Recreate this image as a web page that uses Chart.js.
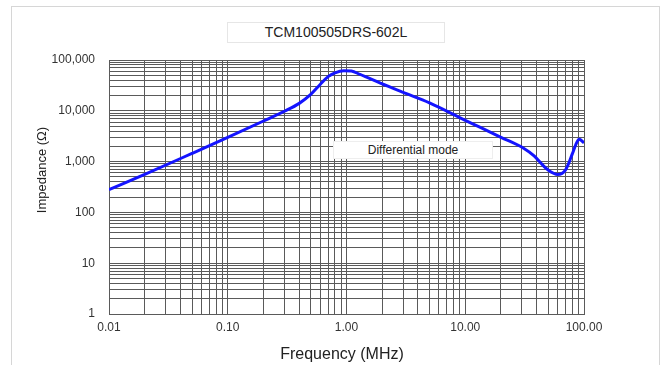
<!DOCTYPE html>
<html lang="en">
<head>
<meta charset="UTF-8">
<title>TCM100505DRS-602L</title>
<script src="https://cdn.jsdelivr.net/npm/chart.js"></script>
<style>
  body { margin: 0; background: #fff; font-family: "Liberation Sans", Arial, sans-serif; }
  #wrap { position: relative; width: 667px; height: 365px; overflow: hidden; }
  #frame { position: absolute; left: 11px; top: 6px; width: 647px; height: 420px; border: 1px solid #d6d6d6; }
  canvas { position: absolute; left: 0; top: 0; }
  .box { position: absolute; background: #fff; text-align: center; color: #222; white-space: nowrap; }
  #chartTitle { left: 227px; top: 22px; width: 216px; height: 19px; line-height: 19px; border: 1px solid #e6e6e6; font-size: 14px; }
  #modeLabel { left: 333px; top: 141px; width: 158px; height: 16px; line-height: 16px; border: 1px solid #eeeeee; font-size: 12px; }
  .axisTitle { position: absolute; color: #222; white-space: nowrap; text-align: center; height: 18px; line-height: 18px; }
  #xTitle { left: 242px; top: 345px; width: 200px; font-size: 16px; }
  #yTitle { left: -18px; top: 161px; width: 120px; font-size: 13px; transform: rotate(-90deg); }
</style>
</head>
<body>
<div id="wrap">
  <div id="frame"></div>
  <canvas id="impChart" width="667" height="365"></canvas>
  <div id="chartTitle" class="box">TCM100505DRS-602L</div>
  <div id="modeLabel" class="box">Differential mode</div>
  <div id="xTitle" class="axisTitle">Frequency (MHz)</div>
  <div id="yTitle" class="axisTitle">Impedance (Ω)</div>
</div>

<script>
// frequency in MHz, impedance in ohm
const freq = [0.01, 0.02, 0.05, 0.1, 0.2, 0.3, 0.4, 0.5, 0.6, 0.7, 0.8, 0.95, 1.1, 1.3, 1.93, 3, 5, 10, 13.4, 20, 31, 38, 45, 50, 60, 70, 80, 85, 91, 100];
const impedance = [280, 560, 1450, 3000, 6300, 9800, 14000, 21000, 33000, 47000, 56000, 61500, 60500, 52000, 35000, 23000, 14300, 6500, 4700, 3000, 1830, 1290, 850, 680, 560, 690, 1450, 2120, 2750, 2350];

// decades and their tick labels
const xDecades = [0.01, 0.1, 1, 10, 100];
const xTickLabels = ['0.01', '0.10', '1.00', '10.00', '100.00'];
const yDecades = [1, 10, 100, 1000, 10000, 100000];
const yTickLabels = ['1', '10', '100', '1,000', '10,000', '100,000'];

// grid lines at 1..9 times each decade
function gridValues(decades) {
    var vals = [];
    for (var i = 0; i < decades.length - 1; i++) {
        for (var m = 1; m <= 9; m++) {
            vals.push(decades[i] * m);
        }
    }
    vals.push(decades[decades.length - 1]);
    return vals;
}

const points = freq.map((f, i) => ({x: f, y: impedance[i]}));

const gridColor = '#5a5a5a';
const tickFont = {family: '"Liberation Sans", Arial, sans-serif', size: 12};

new Chart(document.getElementById('impChart'), {
    type: 'line',
    data: {
        datasets: [{
            label: 'Differential mode',
            data: points,
            borderColor: '#1414ff',
            borderWidth: 3,
            pointRadius: 0,
            fill: false,
            cubicInterpolationMode: 'monotone'
        }]
    },
    options: {
        responsive: false,
        animation: false,
        layout: {padding: {top: 60, right: 83, left: 0, bottom: 0}},
        plugins: {
            legend: {display: false},
            tooltip: {enabled: false},
            title: {display: false}
        },
        scales: {
            x: {
                type: 'logarithmic',
                min: 0.01,
                max: 100,
                afterBuildTicks: scale => {
                    scale.ticks = gridValues(xDecades).map(v => ({value: v}));
                },
                afterFit: scale => { scale.height = 51; },
                grid: {color: gridColor, lineWidth: 1, drawTicks: false},
                border: {color: gridColor},
                ticks: {
                    autoSkip: false,
                    maxRotation: 0,
                    minRotation: 0,
                    padding: 6,
                    color: '#333',
                    font: tickFont,
                    callback: value => {
                        const i = xDecades.indexOf(value);
                        return i >= 0 ? xTickLabels[i] : '';
                    }
                }
            },
            y: {
                type: 'logarithmic',
                min: 1,
                max: 100000,
                afterBuildTicks: scale => {
                    scale.ticks = gridValues(yDecades).map(v => ({value: v}));
                },
                afterFit: scale => { scale.width = 109; },
                grid: {color: gridColor, lineWidth: 1, drawTicks: false},
                border: {color: gridColor},
                ticks: {
                    autoSkip: false,
                    padding: 14,
                    color: '#333',
                    font: tickFont,
                    callback: value => {
                        const i = yDecades.indexOf(value);
                        return i >= 0 ? yTickLabels[i] : '';
                    }
                }
            }
        }
    }
});
</script>
</body>
</html>
